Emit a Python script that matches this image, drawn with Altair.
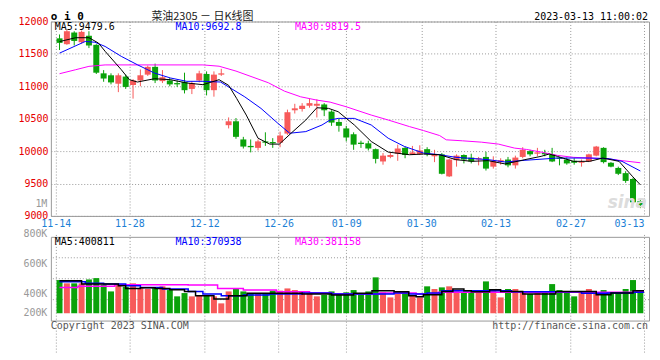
import altair as alt
import pandas as pd

# ---------------- data ----------------
OPEN = [11740, 11650, 11830, 11680, 11780, 11640, 11200, 11170, 11040, 11150,
        11020, 11090, 11180, 11300, 11080, 11090, 11050, 11070, 10960, 11090,
        11190, 10940, 11180, 10400, 10460, 10180, 10080, 10050, 10150, 10140,
        10130, 10270, 10630, 10650, 10700, 10700, 10720, 10610, 10450, 10350,
        10260, 10130, 10120, 10030, 9840, 9910, 9960, 10050, 9950, 9950,
        10030, 9920, 9950, 9610, 9860, 9940, 9900, 9870, 9910, 9760,
        9830, 9870, 9780, 9910, 10000, 9960, 9970, 9950, 9900, 9870,
        9850, 9820, 9840, 9930, 10050, 9820, 9740, 9660, 9570, 9230]
HIGH = [11800, 11870, 11850, 11860, 11850, 11650, 11250, 11200, 11200, 11180,
        11110, 11260, 11320, 11350, 11250, 11130, 11090, 11210, 11080, 11240,
        11230, 11230, 11270, 10520, 10510, 10220, 10180, 10180, 10290, 10200,
        10300, 10640, 10730, 10740, 10810, 10800, 10740, 10630, 10500, 10390,
        10290, 10160, 10160, 10040, 9970, 9980, 10100, 10070, 10080, 10090,
        10060, 10020, 9970, 9880, 9950, 9950, 9960, 9910, 9990, 9920,
        9890, 9910, 9930, 10060, 10020, 10050, 10020, 10050, 9910, 9900,
        9890, 9870, 9960, 10080, 10060, 9830, 9760, 9690, 9590, 9260]
LOW = [11560, 11640, 11630, 11660, 11590, 11190, 11070, 11030, 10910, 10960,
       10810, 11000, 11160, 11050, 11050, 11000, 10990, 10890, 10880, 11060,
       10860, 10840, 11160, 10350, 10190, 10040, 9980, 10010, 10080, 10050,
       10060, 10250, 10580, 10610, 10670, 10520, 10540, 10390, 10300, 10150,
       10020, 10050, 10010, 9810, 9790, 9890, 9850, 9890, 9940, 9940,
       9920, 9830, 9640, 9600, 9760, 9810, 9810, 9780, 9700, 9730,
       9790, 9750, 9730, 9890, 9920, 9920, 9920, 9830, 9780, 9790,
       9790, 9760, 9830, 9920, 9810, 9750, 9630, 9510, 9190, 9120]
CLOSE = [11670, 11850, 11700, 11840, 11630, 11210, 11120, 11060, 11170, 10990,
         11090, 11170, 11300, 11090, 11140, 11030, 11030, 10940, 11050, 11200,
         10940, 11180, 11200, 10460, 10220, 10070, 10060, 10150, 10130, 10120,
         10240, 10600, 10660, 10700, 10740, 10730, 10630, 10440, 10390, 10210,
         10100, 10110, 10040, 9880, 9930, 9940, 10040, 9940, 9980, 10010,
         9950, 9950, 9650, 9870, 9930, 9870, 9840, 9890, 9730, 9850,
         9860, 9780, 9900, 10020, 9950, 9980, 9950, 9840, 9880, 9810,
         9820, 9840, 9950, 10070, 9830, 9760, 9650, 9540, 9210, 9165]
VOLUME_K = [487, 465, 465, 465, 491, 500, 456, 411, 456, 442,
            465, 434, 427, 434, 445, 420, 378, 400, 378, 382,
            382, 378, 331, 411, 427, 411, 398, 394, 398, 416,
            416, 431, 420, 411, 400, 378, 387, 411, 394, 405,
            420, 394, 411, 505, 405, 371, 394, 405, 387, 371,
            445, 427, 438, 445, 411, 405, 405, 405, 478, 427,
            371, 427, 427, 405, 394, 400, 400, 460, 420, 405,
            378, 400, 427, 400, 420, 400, 400, 427, 487, 416]

# moving-average curves (candle index, value)
MA5_X = [0, 2.2, 4, 5.3, 6.2, 8.4, 9.5, 10.6, 12.9, 15.1, 17.3, 19.5, 21.7, 23, 24.1,
         25.4, 27, 28.6, 29.9, 31.5, 33.5, 35, 36.6, 37.9, 40.1, 42.4, 44.7, 47.6, 49.5,
         51.7, 53.9, 56.1, 58.3, 60.6, 63.3, 65.5, 66.6, 67.7, 69.9, 72.1, 73.9, 76.1, 77.9, 79]
MA5_Y = [11690, 11750, 11750, 11667, 11540, 11256, 11102, 11066, 11117, 11102, 11051, 11025,
         11102, 11015, 10811, 10556, 10199, 10108, 10108, 10276, 10480, 10669, 10659, 10608,
         10403, 10148, 9985, 9944, 9955, 9944, 9868, 9842, 9853, 9802, 9868, 9919, 9955, 9919,
         9842, 9842, 9893, 9842, 9613, 9480]
MA10_X = [0, 3.5, 4.8, 6.2, 8.4, 10.6, 12.9, 15.1, 17.3, 19.5, 21.9, 23, 25.2, 27.4, 29.7,
          31.3, 33.5, 35.7, 36.8, 37.9, 40.1, 42.4, 44.7, 46.9, 49.5, 51.7, 53.9, 58.3, 60.6,
          63.3, 67.7, 72.1, 74.8, 76.5, 79]
MA10_Y = [11512, 11692, 11680, 11615, 11462, 11332, 11205, 11128, 11077, 11077, 11066, 10990,
          10837, 10659, 10429, 10276, 10301, 10403, 10480, 10505, 10505, 10403, 10199, 10072,
          9970, 9944, 9904, 9868, 9832, 9858, 9893, 9893, 9883, 9842, 9693]
MA30_X = [0, 2.2, 4, 6.2, 19.5, 21.7, 24, 28.4, 30.6, 32.8, 35, 36.8, 39, 42.4, 44.7, 47.6,
          49.5, 51.7, 52.6, 54.8, 57.4, 59.7, 61.9, 63.5, 65.5, 67.7, 69.9, 72.1, 74.3, 76.5, 79]
MA30_Y = [11194, 11256, 11308, 11330, 11330, 11310, 11235, 11055, 10925, 10838, 10787, 10756,
          10684, 10556, 10480, 10378, 10317, 10240, 10174, 10159, 10138, 10108, 10046, 10026,
          9985, 9934, 9904, 9893, 9883, 9853, 9820]

VMA5_X = [0, 3, 8, 9, 11, 13, 15, 17, 18.5, 21, 23, 25.5, 33, 37, 40, 42.5, 45.5, 47.5,
          48.5, 49.5, 52, 53.5, 55, 56, 58.5, 60, 63, 67.5, 73, 75, 78, 79.5]
VMA5_K = [482, 460, 449, 431, 436, 431, 422, 411, 382, 360, 382, 398, 394, 387, 398, 416,
          409, 382, 376, 389, 411, 427, 416, 409, 422, 411, 394, 411, 389, 400, 416, 416]
VMA10_X = [0, 3.5, 6, 9, 11, 14, 17.5, 19.5, 22, 25, 28.5, 33, 37, 45.5, 47.5, 50, 52,
           61.5, 71, 74.5, 78, 79.5]
VMA10_K = [476, 465, 460, 449, 438, 427, 411, 394, 382, 387, 394, 400, 394, 400, 394, 400,
           416, 409, 398, 400, 405, 405]
VMA30_X = [0, 2.5, 7.5, 17.5, 21.5, 25, 29.5, 34, 37, 43.5, 48.5, 51.5, 78, 79.5]
VMA30_K = [438, 445, 456, 454, 431, 420, 409, 400, 394, 400, 394, 405, 411, 411]

TICK_POS = [-0.5, 9.5, 19.7, 29.8, 39.0, 49.2, 59.3, 69.5, 79.5]
TICK_LABELS = ["11-14", "11-28", "12-12", "12-26", "01-09", "01-30", "02-13", "02-27", "03-13"]
PRICE_TICKS = [9000, 9500, 10000, 10500, 11000, 11500, 12000]
VOL_TICKS = [200000, 400000, 600000, 800000, 1000000]
VOL_VIEW = [216000, 776000]      # volume values at the bottom / top edge of the lower panel
VOL_BASE = 265000

RED = "#f75a5a"
GREEN = "#0aa20a"
MONO = "DejaVu Sans Mono"
VOL_H = 84

# ---------------- tables ----------------
n = len(OPEN)
candles = pd.DataFrame({
    "i": list(range(n)), "open": OPEN, "high": HIGH, "low": LOW, "close": CLOSE,
    "vol": [v * 1000 for v in VOLUME_K],
})
candles["dir"] = ["up" if c >= o else "down" for o, c in zip(OPEN, CLOSE)]

# ---------------- scales / axes ----------------
XS = alt.Scale(domain=[-0.5, 79.5], nice=False, zero=False)
PYS = alt.Scale(domain=[9000, 12000], nice=False, zero=False)


def vpix(v):
    return VOL_H * (VOL_VIEW[1] - v) / (VOL_VIEW[1] - VOL_VIEW[0])


# volume scale spans the whole label range (1M label sits above the panel, as in the original)
VYS = alt.Scale(domain=[VOL_TICKS[0], VOL_TICKS[-1]],
                range=[vpix(VOL_TICKS[0]), vpix(VOL_TICKS[-1])], nice=False, zero=False)
dir_color = alt.Color("dir:N", scale=alt.Scale(domain=["up", "down"], range=[RED, GREEN]), legend=None)

label_expr = "[" + ",".join("'%s'" % t for t in TICK_LABELS) + "][indexof([" + \
    ",".join(str(p) for p in TICK_POS) + "], datum.value)]"

GRID = dict(grid=True, gridColor="#9a9a9a", gridDash=[1, 2])
x_axis_top = alt.Axis(values=TICK_POS, labelExpr=label_expr, title=None, ticks=False, tickSize=0,
                      domain=False, labelPadding=3, labelColor="#1c7fd6", labelFont=MONO,
                      labelFontSize=10, labelFlush=False, labelOverlap=False, labelBound=False,
                      labelAlign={"condition": {"test": "datum.value > 79", "value": "right"},
                                  "value": "center"}, **GRID)
x_axis_bot = alt.Axis(values=TICK_POS, labels=False, title=None, ticks=False, tickSize=0,
                      domain=False, **GRID)
py_axis = alt.Axis(values=PRICE_TICKS, format="d", title=None, ticks=False, tickSize=0, domain=False,
                   labelPadding=3, labelColor="#e60000", labelFont=MONO, labelFontSize=10,
                   labelFlush=False, labelOverlap=False, **GRID)
vy_axis = alt.Axis(values=VOL_TICKS, title=None, ticks=False, tickSize=0, domain=False,
                   labelExpr="datum.value >= 1000000 ? '1M' : format(datum.value/1000, 'd') + 'K'",
                   labelPadding=4, labelColor="#999999", labelFont=MONO, labelFontSize=10,
                   labelFlush=False, labelOverlap=False, labelBound=False,
                   labelOffset={"condition": {"test": "datum.value < 300000", "value": -10}, "value": 0},
                   grid=False)

one = pd.DataFrame({"a": [0]})


def txt(s, x, y, color="#000", align="left", size=10, font=MONO, weight="normal", style="normal"):
    return alt.Chart(one).mark_text(align=align, baseline="middle", fontSize=size, font=font,
                                    color=color, fontWeight=weight, fontStyle=style).encode(
        x=alt.value(x), y=alt.value(y), text=alt.value(s))


def line(xs, ys, color, yscale, yaxis, xaxis, width=1.0, interp="linear"):
    df = pd.DataFrame({"i": xs, "v": ys})
    return alt.Chart(df).mark_line(color=color, strokeWidth=width, interpolate=interp).encode(
        x=alt.X("i:Q", scale=XS, axis=xaxis),
        y=alt.Y("v:Q", scale=yscale, axis=yaxis))


# ---------------- price panel ----------------
base = alt.Chart(candles)
wicks = base.mark_rule(strokeWidth=1).encode(
    x=alt.X("i:Q", scale=XS, axis=x_axis_top),
    y=alt.Y("low:Q", scale=PYS, axis=py_axis),
    y2="high:Q", color=dir_color)
bodies = base.mark_bar(size=6).encode(
    x=alt.X("i:Q", scale=XS, axis=x_axis_top),
    y=alt.Y("open:Q", scale=PYS, axis=py_axis),
    y2="close:Q", color=dir_color)

top = alt.layer(
    wicks, bodies,
    line(MA30_X, MA30_Y, "#ff00ff", PYS, py_axis, x_axis_top),
    line(MA10_X, MA10_Y, "#0000ff", PYS, py_axis, x_axis_top),
    line(MA5_X, MA5_Y, "#000000", PYS, py_axis, x_axis_top),
    txt("sina", 598, 182, color="#dcdcdc", align="right", size=17, font="DejaVu Sans",
        weight="bold", style="italic"),
    txt("MA5:9479.6", 4, 6, color="#000000"),
    txt("MA10:9692.8", 125, 6, color="#0000ff"),
    txt("MA30:9819.5", 245, 6, color="#ff00ff"),
    txt("o i 0", 0, -5, color="#000000", size=11, weight="bold"),
    txt("菜油2305 － 日K线图", 152, -5, color="#222222", align="center", size=11,
        font="Noto Sans CJK SC"),
    txt("2023-03-13 11:00:02", 599, -5, color="#000000", align="right"),
).properties(width=600, height=195)

# ---------------- volume panel ----------------
step = (VOL_VIEW[1] - VOL_VIEW[0]) / 4
vgrid = pd.DataFrame({"g": [VOL_VIEW[0] + k * step for k in (1, 2, 3)]})
vgrid_rules = alt.Chart(vgrid).mark_rule(color="#9a9a9a", strokeDash=[1, 2]).encode(
    y=alt.Y("g:Q", scale=VYS, axis=vy_axis))
vbars = base.mark_bar(size=6).encode(
    x=alt.X("i:Q", scale=XS, axis=x_axis_bot),
    y=alt.Y("vol:Q", scale=VYS, axis=vy_axis),
    y2=alt.datum(VOL_BASE), color=dir_color)

bottom = alt.layer(
    vgrid_rules, vbars,
    line(VMA30_X, [k * 1000 for k in VMA30_K], "#ff00ff", VYS, vy_axis, x_axis_bot, 1.5, "step-after"),
    line(VMA10_X, [k * 1000 for k in VMA10_K], "#0000ff", VYS, vy_axis, x_axis_bot, 1.5, "step-after"),
    line(VMA5_X, [k * 1000 for k in VMA5_K], "#000000", VYS, vy_axis, x_axis_bot, 1.5, "step-after"),
    txt("MA5:400811", 4, 5, color="#000000"),
    txt("MA10:370938", 125, 5, color="#0000ff"),
    txt("MA30:381158", 245, 5, color="#ff00ff"),
    txt("Copyright 2023 SINA.COM", 0, 89, color="#555555"),
    txt("http://finance.sina.com.cn", 599, 89, color="#555555", align="right"),
).properties(width=600, height=VOL_H)

chart = alt.vconcat(top, bottom, spacing=21, bounds="flush").properties(
    padding={"left": 9, "top": 1, "right": 2, "bottom": 2},
    background="#ffffff",
).configure_view(stroke="#999999", strokeWidth=1)

chart.save("out.html", embed_options={"renderer": "svg", "actions": False})
